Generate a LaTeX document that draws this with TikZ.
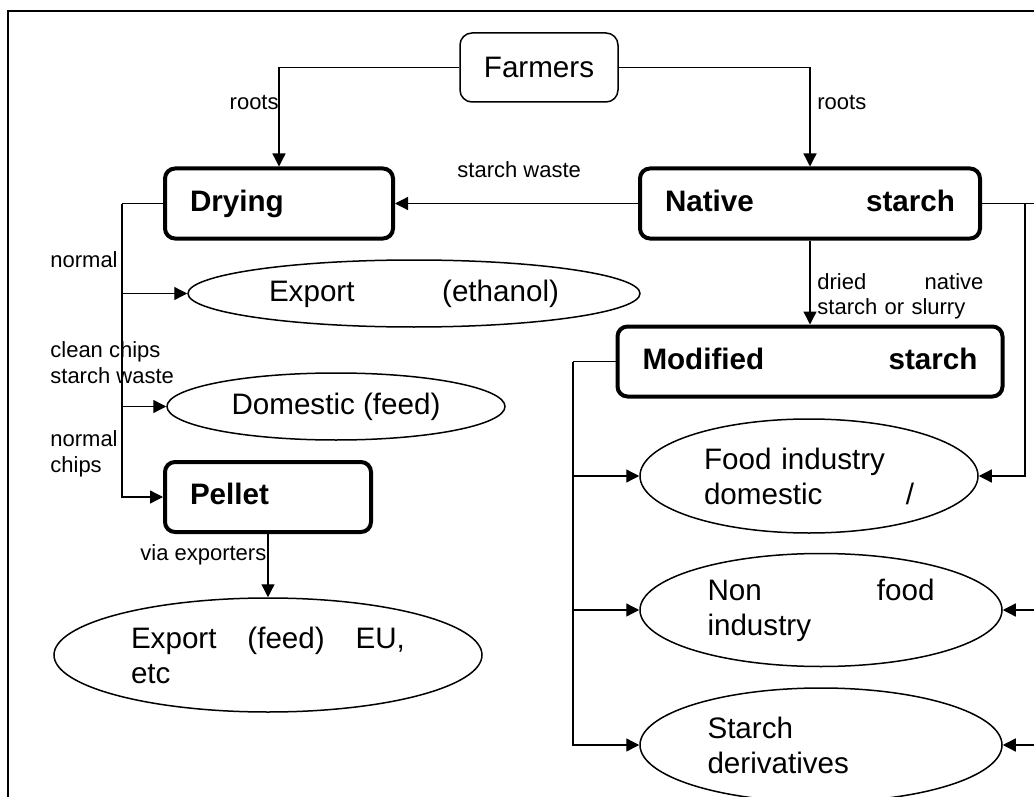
\documentclass[tikz,border=0pt]{standalone}
\usepackage{fontspec}
\setmainfont{Liberation Sans}
\usetikzlibrary{arrows.meta,shapes.geometric}

\begin{document}
\begin{tikzpicture}[x=0.5pt,y=-0.5pt,
    lbl/.style={font=\fontsize{11}{13}\selectfont, inner sep=0pt},
    farmbox/.style={draw, line width=0.75pt, rounded corners=6pt, minimum width=79pt, minimum height=34.5pt, font=\fontsize{14.8}{17.5}\selectfont},
    stagebox/.style={draw, line width=2pt, rounded corners=5pt, minimum height=35pt, inner xsep=12.5pt, text depth=3pt, align=left, font=\fontsize{14.8}{17.5}\selectfont\bfseries},
    market/.style={draw, ellipse, line width=0.75pt, inner sep=0pt, align=left, font=\fontsize{14.8}{17.5}\selectfont},
    flow/.style={line width=0.65pt, -{Triangle[length=6.5pt,width=6.5pt]}},
    link/.style={line width=0.65pt}]
        \useasboundingbox (0,0) rectangle (1034,797);
        \draw [line width=1pt] (8,797) -- (8,11) -- (1034,11);                         % frame

        \node [farmbox] (frm) at (539,67.5) {Farmers};                                  %
        \node [stagebox, text width=89pt]    (dry) at (279,203.5) {Drying};             %
        \node [stagebox, text width=145pt]   (nat) at (810,203.5) {Native\hfill starch};%
        \node [stagebox, text width=167.5pt] (mod) at (810,361.5) {Modified\hfill starch};
        \node [stagebox, text width=78pt]    (pel) at (268,497)   {Pellet};             %

        \node [market, minimum width=226pt, minimum height=33.5pt, text width=145pt] (exe)  at (414,293.5) {Export\hfill(ethanol)};
        \node [market, minimum width=169pt, minimum height=33.5pt, align=center]     (dom)  at (336,406.5) {Domestic (feed)};
        \node [market, minimum width=214pt, minimum height=57pt, text width=137pt]   (exf)  at (268,655)   {Export\hfill(feed)\hfill EU,\\etc};
        \node [market, minimum width=169pt, minimum height=57pt, text width=105pt]   (food) at (809,476)   {Food industry\\domestic\hfill/};
        \node [market, minimum width=181pt, minimum height=56.5pt, text width=113.5pt] (nonf) at (821,610) {Non\hfill food\\industry};
        \node [market, minimum width=181pt, minimum height=57pt, text width=113.5pt] (der)  at (821,745)   {Starch\\derivatives};

        \draw [flow] (frm.west) -| (dry.north);                                         % roots
        \draw [flow] (frm.east) -| (nat.north);                                         % roots
        \draw [flow] (nat.west) -- (dry.east);                                          % starch waste
        \draw [flow] (nat.south) -- (mod.north);                                        %

        \coordinate (dtr) at (122,203.5);                                               % drying trunk
        \draw [link] (dry.west) -- (dtr);                                               %
        \draw [flow] (dtr) |- (pel.west);                                               %
        \draw [flow] (dtr |- exe.west) -- (exe.west);                                   %
        \draw [flow] (dtr |- dom.west) -- (dom.west);                                   %
        \draw [flow] (pel.south) -- (exf.north);                                        %

        \coordinate (mtr) at (573,361.5);                                               % modified trunk
        \draw [link] (mod.west) -- (mtr);                                               %
        \draw [flow] (mtr) |- (der.west);                                               %
        \draw [flow] (mtr |- food.west) -- (food.west);                                 %
        \draw [flow] (mtr |- nonf.west) -- (nonf.west);                                 %

        \coordinate (redge) at (1034,203.5);                                            % right side
        \coordinate (rtr)   at (1025,203.5);                                            %
        \draw [link] (nat.east) -- (redge);                                             %
        \draw [flow] (rtr) |- (food.east);                                              %
        \draw [flow] (redge |- nonf.east) -- (nonf.east);                               %
        \draw [flow] (redge |- der.east) -- (der.east);                                 %

        \node [lbl, anchor=base east] (rtsl) at (279,110) {roots};                      %
        \node [lbl, anchor=base west] (rtsr) at (817,110) {roots};                      %
        \node [lbl, anchor=base west] (swl) at (457,177) {starch waste};                %
        \node [lbl, anchor=base west] (nml) at (50,267)  {normal};                      %
        \node [lbl, anchor=base west, align=left] (ccl) at (50,383) {clean chips\\starch waste};
        \node [lbl, anchor=base west, align=left] (ncl) at (50,472) {normal\\chips};    %
        \node [lbl, anchor=base west] (vel) at (140,560) {via exporters};               %
        \node [lbl, anchor=base west, text width=83pt] (dnl) at (817,289) {dried\hfill native\\starch or slurry};
      \end{tikzpicture}
\end{document}
